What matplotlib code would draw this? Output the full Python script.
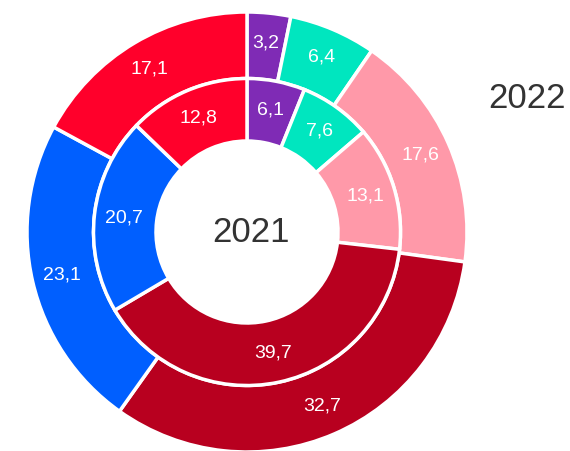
import matplotlib
matplotlib.use("Agg")
import matplotlib.pyplot as plt

plt.rcParams["font.family"] = ["Liberation Sans", "DejaVu Sans"]

# Shares per category, clockwise from the top
values_2021 = [6.1, 7.6, 13.1, 39.7, 20.7, 12.8]
values_2022 = [3.2, 6.4, 17.6, 32.7, 23.1, 17.1]
colors = ["#7f2bb5", "#00e6bf", "#ff99a9", "#b8001f", "#005fff", "#ff002b"]

W, H = 570, 451
CX, CY = 247, H - 232
R_OUT, R_MID, R_HOLE = 220, 153.5, 91


def fmt(v):
    return f"{v:.1f}".replace(".", ",")


fig = plt.figure(figsize=(W / 100, H / 100), dpi=100)
ax = fig.add_axes([0, 0, 1, 1])

wedge_style = dict(edgecolor="white", linewidth=2.5)
text_style = dict(color="white", fontsize=14)

# outer ring: 2022
ax.pie(values_2022, colors=colors, startangle=90, counterclock=False,
       center=(CX, CY), radius=R_OUT, labels=[fmt(v) for v in values_2022],
       labeldistance=190 / R_OUT, textprops=text_style,
       wedgeprops=dict(width=R_OUT - R_MID, **wedge_style), frame=True)
for t in ax.texts:
    t.set_ha("center")
    t.set_va("center")

n = len(ax.texts)
# inner ring: 2021
ax.pie(values_2021, colors=colors, startangle=90, counterclock=False,
       center=(CX, CY), radius=R_MID, labels=[fmt(v) for v in values_2021],
       labeldistance=124 / R_MID, textprops=text_style,
       wedgeprops=dict(width=R_MID - R_HOLE, **wedge_style), frame=True)
for t in ax.texts[n:]:
    t.set_ha("center")
    t.set_va("center")

ax.text(CX + 4, CY, "2021", ha="center", va="center", fontsize=25, color="#333333")
ax.text(527, H - 98, "2022", ha="center", va="center", fontsize=25, color="#333333")

ax.set_xlim(0, W)
ax.set_ylim(0, H)
ax.set_aspect("equal")
ax.axis("off")

fig.savefig("out.png", dpi=100)
